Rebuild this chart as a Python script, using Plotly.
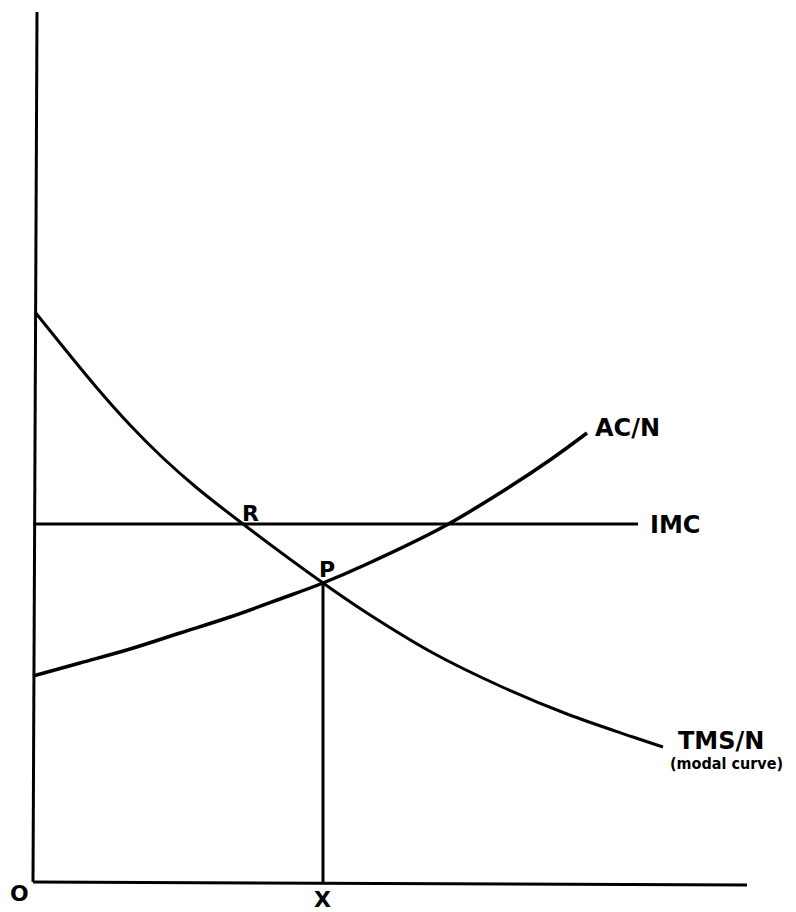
import plotly.graph_objects as go

# curve values (arbitrary units, origin at O)
tms_x = [0.2, 6.4, 9.7, 13.0, 16.4, 21.0, 29.0, 33.4, 40.0, 46.7, 53.4, 60.0, 63.0]
tms_y = [57.0, 49.4, 45.7, 42.4, 39.4, 35.8, 29.9, 26.9, 22.9, 19.6, 16.8, 14.5, 13.5]

ac_x = [0.0, 4.7, 9.7, 14.7, 19.7, 24.7, 29.0, 33.4, 41.0, 46.7, 51.7, 55.4]
ac_y = [20.6, 21.9, 23.3, 24.9, 26.5, 28.3, 29.9, 31.8, 35.5, 38.9, 42.2, 44.9]

imc_x = [0.0, 60.5]
imc_y = [35.8, 35.8]

# equilibrium point P and output X
p_x = 29.0
p_y = 29.9

yaxis_x = [0.0, 0.4]
yaxis_y = [0.0, 87.0]
xaxis_x = [0.0, 71.4]
xaxis_y = [0.0, -0.3]

FONT = "DejaVu Sans"
line_style = dict(color="black", width=3)

fig = go.Figure()

# axes drawn by hand
fig.add_trace(go.Scatter(x=yaxis_x, y=yaxis_y, mode="lines", line=line_style))
fig.add_trace(go.Scatter(x=xaxis_x, y=xaxis_y, mode="lines", line=line_style))

# curves
fig.add_trace(go.Scatter(x=tms_x, y=tms_y, mode="lines",
                         line=dict(color="black", width=3, shape="spline", smoothing=1)))
fig.add_trace(go.Scatter(x=ac_x, y=ac_y, mode="lines",
                         line=dict(color="black", width=3.5, shape="spline", smoothing=1)))
fig.add_trace(go.Scatter(x=imc_x, y=imc_y, mode="lines", line=line_style))
fig.add_trace(go.Scatter(x=[p_x, p_x], y=[0, p_y], mode="lines", line=line_style))

labels = [
    (56.0, 45.4, "AC/N", "left", 24),
    (61.5, 35.7, "IMC", "left", 24),
    (64.3, 14.1, "TMS/N", "left", 24),
    (21.7, 36.9, "R", "center", 22),
    (29.4, 31.3, "P", "center", 22),
    (-2.5, -1.1, "O", "left", 22),
    (28.9, -1.7, "X", "center", 22),
]
for x, y, text, anchor, size in labels:
    fig.add_annotation(x=x, y=y, text="<b>" + text + "</b>", showarrow=False, xanchor=anchor,
                       yanchor="middle", font=dict(family=FONT, size=size, color="black"))

fig.add_annotation(x=63.5, y=11.9, text="<b>(modal curve)</b>", showarrow=False,
                   xanchor="left", yanchor="middle",
                   font=dict(family="DejaVu Sans Condensed, " + FONT, size=16, color="black"))

# page body adds an 8px margin, so the figure is drawn 8px smaller
fig.update_layout(
    width=788,
    height=904,
    margin=dict(l=0, r=0, t=0, b=0),
    paper_bgcolor="white",
    plot_bgcolor="white",
    showlegend=False,
    hovermode=False,
)
fig.update_xaxes(range=[-2.5, 76.3], visible=False, fixedrange=True)
fig.update_yaxes(range=[-3.0, 87.4], visible=False, fixedrange=True)

fig.write_html("out.html")
